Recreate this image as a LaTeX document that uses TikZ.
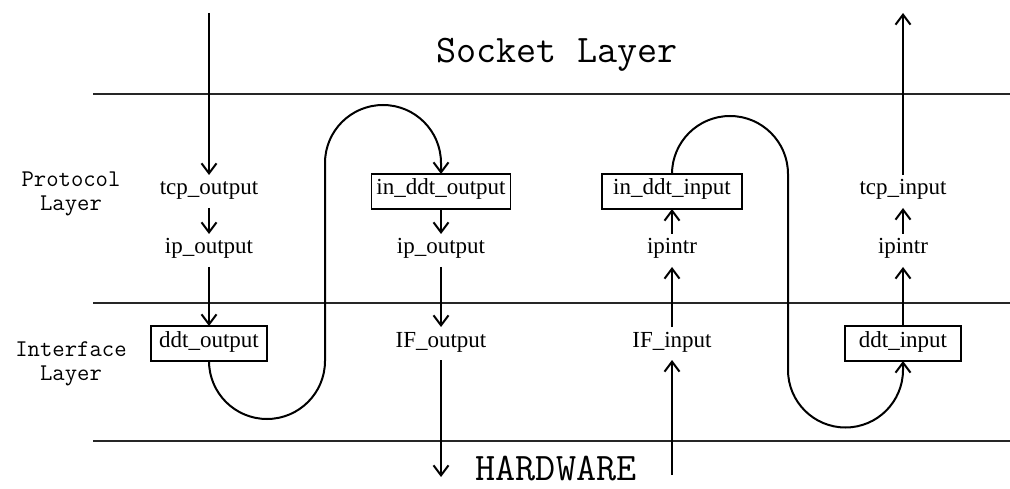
\documentclass[tikz,border=0pt]{standalone}
\usepackage{fontspec}
\setmainfont{Liberation Serif}
\usetikzlibrary{arrows.meta}

\tikzset{
  func/.style={font=\fontsize{23}{27}\selectfont, text height=12pt, text depth=5pt,
               inner xsep=0pt, inner ysep=8pt, outer sep=0pt, anchor=base},
  boxed/.style={draw, line width=1.2pt, font=\fontsize{23}{27}\selectfont,
               text height=12pt, text depth=5pt, inner xsep=0pt, inner ysep=0pt,
               minimum height=35pt, outer sep=0pt, anchor=base},
  layer/.style={font=\ttfamily\fontsize{24}{24}\selectfont, align=center, inner sep=0pt},
  title/.style={font=\ttfamily\fontsize{39}{44}\selectfont, inner sep=0pt, anchor=base},
  rule/.style={line width=1.3pt, draw=black!85},
  flow/.style={line width=2pt, -{Straight Barb[length=10pt,width=15pt,line width=2pt]}},
}

\begin{document}
\begin{tikzpicture}[x=1pt,y=1pt]
  \useasboundingbox (0,0) rectangle (1010,488);

  % layer boundaries
  \draw[rule] (93,394) -- (1010,394);
  \draw[rule] (93,185) -- (1010,185);
  \draw[rule] (93,47) -- (1010,47);

  % layer names
  \node[title] (socket) at (557,425) {Socket Layer};
  \node[title] (hw) at (556,8) {HARDWARE};
  \node[layer] (proto) at (71,294) {Protocol\\Layer};
  \node[layer] (iface) at (71,124) {Interface\\Layer};

  % output path
  \node[func]  (tcpout)   at (209,293) {tcp\_output};
  \node[func]  (ipout1)   at (209,234) {ip\_output};
  \node[boxed, minimum width=116pt] (ddtout) at (209,141) {ddt\_output};
  \node[boxed, minimum width=139pt] (inddtout) at (441,293) {in\_ddt\_output};
  \node[func]  (ipout2)   at (441,234) {ip\_output};
  \node[func]  (ifout)    at (441,141) {IF\_output};

  % input path
  \node[func]  (ifin)     at (672,141) {IF\_input};
  \node[func]  (ipintr1)  at (672,234) {ipintr};
  \node[boxed, minimum width=140pt] (inddtin) at (672,293) {in\_ddt\_input};
  \node[boxed, minimum width=116pt] (ddtin) at (903,141) {ddt\_input};
  \node[func]  (ipintr2)  at (903,234) {ipintr};
  \node[func]  (tcpin)    at (903,293) {tcp\_input};

  % free ends
  \coordinate (topA) at (209,475);
  \coordinate (topD) at (903,475);
  \coordinate (botB) at (441,11);
  \coordinate (botC) at (672,13);

  % output connectors
  \draw[flow] (topA) -- (tcpout.north);
  \draw[flow] (tcpout.south) -- (ipout1.north);
  \draw[flow] (ipout1.south) -- (ddtout.north);
  \draw[flow] (ddtout.south) arc[start angle=180, end angle=360, radius=58]
      -- ++(0,198) arc[start angle=180, end angle=0, radius=58] -- (inddtout.north);
  \draw[flow] (inddtout.south) -- (ipout2.north);
  \draw[flow] (ipout2.south) -- (ifout.north);
  \draw[flow] (ifout.south) -- (botB);

  % input connectors
  \draw[flow] (botC) -- (ifin.south);
  \draw[flow] (ifin.north) -- (ipintr1.south);
  \draw[flow] (ipintr1.north) -- (inddtin.south);
  \draw[flow] (inddtin.north) arc[start angle=180, end angle=0, radius=58]
      -- ++(0,-196) arc[start angle=180, end angle=360, radius=57.5] -- (ddtin.south);
  \draw[flow] (ddtin.north) -- (ipintr2.south);
  \draw[flow] (ipintr2.north) -- (tcpin.south);
  \draw[flow] (tcpin.north) -- (topD);
\end{tikzpicture}
\end{document}
